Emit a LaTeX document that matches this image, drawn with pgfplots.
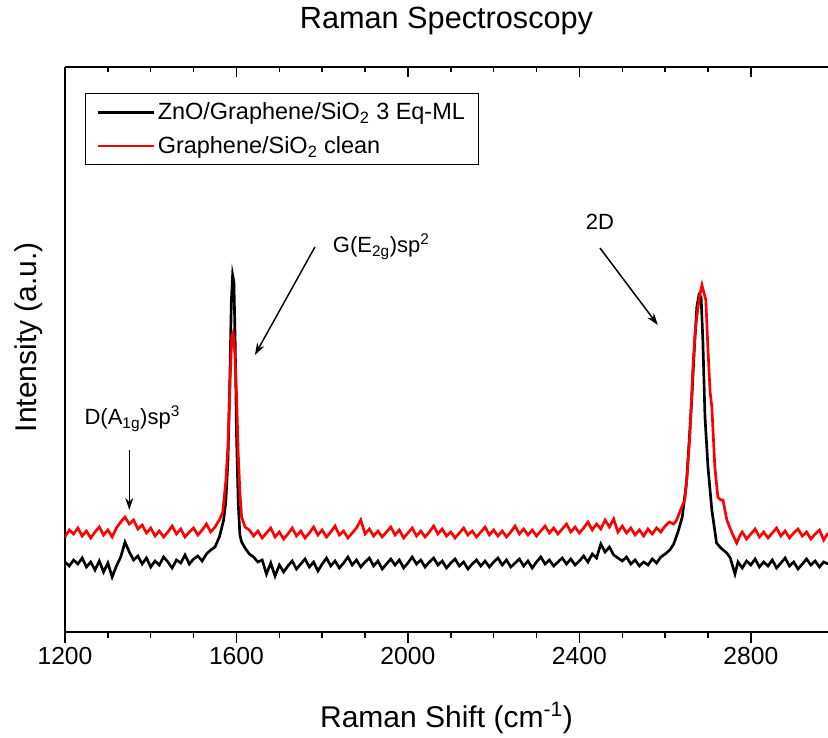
\documentclass[border=0pt]{standalone}
\usepackage{fontspec}
\setmainfont{Liberation Sans}
\usepackage{pgfplots}
\pgfplotsset{compat=1.18}
\usetikzlibrary{arrows.meta}

\definecolor{specred}{RGB}{255,0,0}

\begin{document}
\begin{tikzpicture}
\begin{axis}[
    name=main,
    scale only axis,
    width=572.25pt,
    height=423.75pt,
    xmin=1200, xmax=2980,
    ymin=0, ymax=565,
    axis x line*=bottom,
    axis y line*=left,
    axis line style={line width=1.1pt},
    xtick={1200,1600,2000,2400,2800},
    minor x tick num=3,
    ytick=\empty,
    tick align=outside,
    major tick length=8.25pt,
    minor tick length=4.5pt,
    every tick/.style={line width=1.1pt, black},
    /pgf/number format/assume math mode=true,
    /pgf/number format/1000 sep={},
    ticklabel style={font=\fontsize{18.5}{20}\selectfont},
    title={Raman Spectroscopy},
    title style={font=\fontsize{23}{26}\selectfont, at={(axis description cs:0.5,1)}, anchor=base, yshift=22.5pt},
    xlabel={Raman Shift (cm\textsuperscript{-1})},
    xlabel style={font=\fontsize{22.5}{26}\selectfont, at={(axis description cs:0.5,0)}, anchor=base, yshift=-71.25pt},
    ylabel={Intensity (a.u.)},
    ylabel style={font=\fontsize{22.5}{26}\selectfont, at={(axis description cs:-0.0367,0.522)}, anchor=base},
    legend style={at={(axis description cs:0.0262,0.954)}, anchor=north west,
        draw=black, line width=0.75pt, font=\fontsize{17.6}{20}\selectfont,
        inner xsep=8pt, inner ysep=5pt, row sep=7pt},
    legend cell align=left,
    legend image code/.code={\draw[#1, line width=2.2pt] (0pt,0pt) -- (42pt,0pt);},
]
% ZnO/Graphene/SiO2 3 Eq-ML
\addplot[black, line width=2pt] coordinates {
(1200,70)(1210,66)(1220,72)(1230,68)(1240,74)(1250,65)(1260,70)(1270,62)(1280,71)(1290,60)
(1300,69)(1310,55)(1320,66)(1330,75)(1340,90)(1350,80)(1360,72)(1370,76)(1380,68)(1390,74)
(1400,65)(1410,71)(1420,67)(1430,75)(1440,70)(1450,64)(1460,72)(1470,69)(1480,77)(1490,68)
(1500,73)(1510,76)(1520,71)(1530,78)(1540,82)(1550,85)(1560,95)(1565,103)(1570,112)(1575,130)
(1580,170)(1584,240)(1588,330)(1591,357)(1594,350)(1597,290)(1600,200)(1604,130)(1608,97)(1612,90)
(1620,84)(1630,78)(1640,75)(1650,70)(1660,72)(1670,58)(1680,69)(1690,56)(1700,67)(1710,60)
(1720,66)(1730,71)(1740,63)(1750,68)(1760,73)(1770,65)(1780,70)(1790,61)(1800,68)(1810,74)
(1820,66)(1830,71)(1840,64)(1850,69)(1860,75)(1870,67)(1880,72)(1890,65)(1900,70)(1910,74)
(1920,66)(1930,71)(1940,63)(1950,68)(1960,73)(1970,67)(1980,72)(1990,64)(2000,69)(2010,75)
(2020,68)(2030,72)(2040,65)(2050,70)(2060,74)(2070,67)(2080,71)(2090,64)(2100,69)(2110,73)
(2120,66)(2130,70)(2140,63)(2150,68)(2160,72)(2170,66)(2180,71)(2190,65)(2200,70)(2210,74)
(2220,67)(2230,72)(2240,65)(2250,69)(2260,73)(2270,66)(2280,71)(2290,64)(2300,70)(2310,75)
(2320,68)(2330,72)(2340,66)(2350,70)(2360,74)(2370,68)(2380,73)(2390,67)(2400,71)(2410,76)
(2420,70)(2430,78)(2440,74)(2450,88)(2460,80)(2470,85)(2480,77)(2490,74)(2500,71)(2510,75)
(2520,68)(2530,72)(2540,66)(2550,70)(2560,67)(2570,73)(2580,69)(2590,75)(2600,78)(2611,82)
(2620,88)(2630,100)(2640,115)(2650,150)(2656,190)(2662,232)(2668,282)(2674,325)(2679,337)(2684,335)
(2688,292)(2693,215)(2700,165)(2709,122)(2720,89)(2730,84)(2744,79)(2752,74)(2763,58)(2770,70)
(2780,64)(2790,71)(2800,67)(2810,73)(2820,65)(2830,70)(2840,66)(2850,72)(2860,64)(2870,69)
(2880,74)(2890,66)(2900,70)(2910,63)(2920,68)(2930,73)(2940,67)(2950,71)(2960,65)(2970,70)
(2980,68)
};
\addlegendentry{ZnO/Graphene/SiO\textsubscript{2} 3 Eq-ML}
% Graphene/SiO2 clean
\addplot[specred, line width=2pt] coordinates {
(1200,95)(1210,102)(1220,98)(1230,104)(1240,96)(1250,101)(1260,94)(1270,100)(1280,105)(1290,97)
(1300,102)(1310,95)(1320,104)(1330,110)(1340,115)(1350,108)(1360,112)(1370,103)(1380,107)(1390,99)
(1400,104)(1410,96)(1420,101)(1430,95)(1440,100)(1450,106)(1460,98)(1470,103)(1480,95)(1490,100)
(1500,104)(1510,97)(1520,102)(1530,108)(1540,100)(1550,105)(1560,112)(1568,120)(1575,150)(1580,185)
(1585,250)(1589,295)(1592,299)(1596,280)(1600,240)(1604,180)(1608,140)(1612,115)(1620,105)(1630,102)
(1640,96)(1650,101)(1660,94)(1670,99)(1680,104)(1690,95)(1700,100)(1710,93)(1720,98)(1730,104)
(1740,96)(1750,101)(1760,94)(1770,99)(1780,105)(1790,97)(1800,102)(1810,95)(1820,100)(1830,106)
(1840,97)(1850,101)(1860,94)(1870,99)(1880,104)(1890,112)(1900,98)(1910,103)(1920,96)(1930,101)
(1940,95)(1950,100)(1960,105)(1970,97)(1980,102)(1990,94)(2000,99)(2010,104)(2020,96)(2030,101)
(2040,95)(2050,100)(2060,106)(2070,98)(2080,103)(2090,96)(2100,100)(2110,94)(2120,99)(2130,104)
(2140,97)(2150,101)(2160,95)(2170,100)(2180,105)(2190,97)(2200,102)(2210,96)(2220,101)(2230,95)
(2240,100)(2250,106)(2260,98)(2270,103)(2280,97)(2290,102)(2300,96)(2310,101)(2320,106)(2330,99)
(2340,104)(2350,98)(2360,103)(2370,108)(2380,100)(2390,105)(2400,99)(2410,104)(2420,110)(2430,102)
(2440,108)(2450,103)(2460,112)(2470,105)(2480,113)(2490,100)(2500,106)(2510,99)(2520,104)(2530,97)
(2540,102)(2550,96)(2560,103)(2570,98)(2580,104)(2590,100)(2600,106)(2610,110)(2620,108)(2627,112)
(2636,122)(2646,132)(2652,160)(2658,199)(2665,265)(2670,300)(2674,315)(2680,335)(2686,347)(2690,340)
(2695,332)(2700,282)(2705,240)(2709,225)(2716,165)(2723,135)(2730,132)(2735,132)(2744,112)(2756,99)
(2767,89)(2775,97)(2780,100)(2790,93)(2800,98)(2810,103)(2820,95)(2830,100)(2840,94)(2850,99)
(2860,104)(2870,96)(2880,101)(2890,94)(2900,99)(2910,103)(2920,96)(2930,100)(2940,93)(2950,98)
(2960,102)(2970,92)(2980,99)
};
\addlegendentry{Graphene/SiO\textsubscript{2} clean}

% annotations
\node[font=\fontsize{16.5}{18}\selectfont, anchor=base] at (axis cs:1357,207) {D(A\textsubscript{1g})sp\textsuperscript{3}};
\draw[line width=1.1pt, -{Stealth[length=9pt,width=6pt]}] (axis cs:1350,182) -- (axis cs:1350,122);
\node[font=\fontsize{16.5}{18}\selectfont, anchor=base] at (axis cs:1938,379) {G(E\textsubscript{2g})sp\textsuperscript{2}};
\draw[line width=1.1pt, -{Stealth[length=9pt,width=6pt]}] (axis cs:1783,385) -- (axis cs:1643,277);
\node[font=\fontsize{16.5}{18}\selectfont, anchor=base] at (axis cs:2448,402) {2D};
\draw[line width=1.1pt, -{Stealth[length=9pt,width=6pt]}] (axis cs:2448,384) -- (axis cs:2583,307);
\end{axis}
\begin{axis}[
    scale only axis,
    width=572.25pt,
    height=423.75pt,
    xmin=1200, xmax=2980,
    ymin=0, ymax=565,
    axis x line*=top,
    axis y line=none,
    axis line style={line width=1.1pt},
    xtick={1200,1600,2000,2400,2800},
    minor x tick num=3,
    xticklabels={},
    tick align=inside,
    major tick length=7.5pt,
    minor tick length=3.75pt,
    every tick/.style={line width=1.1pt, black},
]
\end{axis}
\pgfresetboundingbox
\path ([xshift=-48.75pt,yshift=-79.5pt]main.south west) rectangle ([yshift=50.25pt]main.north east);
\end{tikzpicture}
\end{document}
